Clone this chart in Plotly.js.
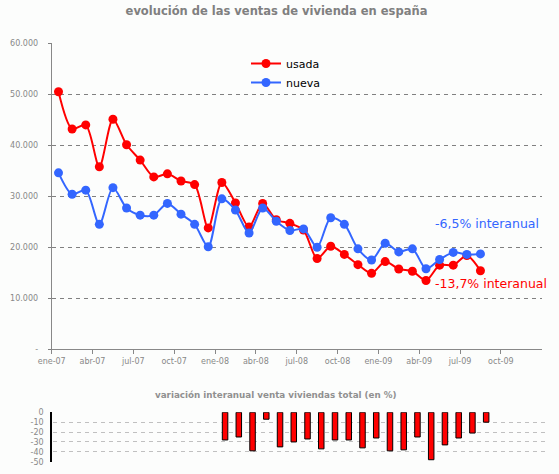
<!DOCTYPE html>
<html>
<head>
<meta charset="utf-8">
<script src="https://cdn.plot.ly/plotly-3.0.1.min.js"></script>
<style>html,body{margin:0;padding:0;background:#fcfdfc;}#chart{width:559px;height:474px;}</style>
</head>
<body>
<div id="chart"></div>
<script>
// ---- data ----
const meses = ['ene-07','feb-07','mar-07','abr-07','may-07','jun-07','jul-07','ago-07','sep-07','oct-07','nov-07','dic-07',
               'ene-08','feb-08','mar-08','abr-08','may-08','jun-08','jul-08','ago-08','sep-08','oct-08','nov-08','dic-08',
               'ene-09','feb-09','mar-09','abr-09','may-09','jun-09','jul-09','ago-09'];
const usada = [50500,43200,44000,35800,45100,40100,37100,33800,34400,33000,32300,23800,
               32700,28700,24000,28600,25400,24700,23400,17800,20200,18600,16600,14900,
               17200,15750,15300,13500,16500,16500,18400,15400];
const nueva = [34600,30400,31200,24500,31700,27700,26300,26300,28600,26500,24500,20100,
               29500,27300,22800,27700,25100,23300,23600,20000,25800,24500,19700,17500,
               20800,19100,19700,15800,17600,19000,18600,18700];
const mesesVar = ['ene-08','feb-08','mar-08','abr-08','may-08','jun-08','jul-08','ago-08','sep-08','oct-08',
                  'nov-08','dic-08','ene-09','feb-09','mar-09','abr-09','may-09','jun-09','jul-09','ago-09'];
const variacion = [-28,-25,-39,-7,-35,-30,-27,-37,-28,-28,-36,-26,-39,-38,-25,-48,-33,-26,-21,-10];
const xTickText = ['ene-07','abr-07','jul-07','oct-07','ene-08','abr-08','jul-08','oct-08','ene-09','abr-09','jul-09','oct-09'];
const yTickVals = [0,10000,20000,30000,40000,50000,60000];
const yTickText = ['-','10.000','20.000','30.000','40.000','50.000','60.000'];
const y2TickVals = [0,-10,-20,-30,-40,-50];
const y2TickText = ['0','-10','-20','-30','-40','-50'];

// month label -> position on a monthly axis starting ene-07 (centre of month)
const abbr = ['ene','feb','mar','abr','may','jun','jul','ago','sep','oct','nov','dic'];
function pos(m){ const [a,y]=m.split('-'); return (parseInt(y,10)-7)*12 + abbr.indexOf(a) + 0.5; }
function tickPos(m){ return pos(m) - 0.5; }

const RED = '#ff0000', BLUE = '#3366ff', GREY = '#888888';
const F = 'DejaVu Sans, Verdana, sans-serif';

const traces = [
  {x: meses.map(pos), y: usada, name: 'usada', type: 'scatter', mode: 'lines+markers',
   line: {color: RED, width: 2, shape: 'spline', smoothing: 0.8},
   marker: {color: RED, size: 9}, xaxis: 'x', yaxis: 'y'},
  {x: meses.map(pos), y: nueva, name: 'nueva', type: 'scatter', mode: 'lines+markers',
   line: {color: BLUE, width: 2, shape: 'spline', smoothing: 0.8},
   marker: {color: BLUE, size: 9}, xaxis: 'x', yaxis: 'y'},
  {x: mesesVar.map(pos), y: variacion, type: 'bar', showlegend: false, width: 0.4,
   marker: {color: RED, line: {color: '#000', width: 1}}, xaxis: 'x2', yaxis: 'y2'}
];

const layout = {
  width: 559, height: 474,
  margin: {l: 0, r: 0, t: 0, b: 0},
  paper_bgcolor: '#fcfdfc', plot_bgcolor: 'rgba(0,0,0,0)',
  font: {family: F, color: GREY},
  title: {text: 'evolución de las ventas de vivienda en españa',
          font: {family: 'DejaVu Sans, sans-serif', size: 11.5, color: '#808080', weight: 'bold'},
          x: 276.5/559, xanchor: 'center', y: 1 - 11/474, yanchor: 'middle', xref: 'paper', yref: 'paper'},
  showlegend: true,
  legend: {x: 246/559, xanchor: 'left', y: 1 - 49/474, yanchor: 'top', bgcolor: 'rgba(0,0,0,0)',
           font: {family: F, size: 11, color: '#000'}, tracegroupgap: 0},
  xaxis: {domain: [51.7/559, 541.7/559], range: [0, 36], tickvals: xTickText.map(tickPos), ticktext: xTickText,
          ticks: 'outside', ticklen: 4, tickcolor: GREY, showline: true, linecolor: GREY, linewidth: 1,
          showgrid: false, zeroline: false, tickfont: {family: F, size: 8, color: GREY}, fixedrange: true},
  yaxis: {domain: [1 - 349.3/474, 1 - 43.3/474], range: [0, 60000], tickvals: yTickVals, ticktext: yTickText,
          ticks: 'outside', ticklen: 3, tickcolor: '#808080', showline: true, linecolor: GREY, linewidth: 1,
          gridcolor: '#808080', griddash: '4px,4px', gridwidth: 1, zeroline: false, ticklabelstandoff: 8,
          tickfont: {family: F, size: 8, color: GREY}},
  xaxis2: {domain: [53.3/559, 548/559], range: [0, 36], showticklabels: false, ticks: '', showline: false,
           showgrid: false, zeroline: false},
  yaxis2: {domain: [1 - 461.7/474, 1 - 412.3/474], range: [-50, 0], tickvals: y2TickVals, ticktext: y2TickText,
           ticks: '', showline: true, linecolor: '#000', linewidth: 1.5, gridcolor: '#c0c0c0', griddash: '4px,4px',
           zeroline: false, ticklabelstandoff: 5, tickfont: {family: F, size: 8, color: GREY}},
  annotations: [
    {text: '-6,5% interanual', xref: 'x', yref: 'y', x: 28.0, y: 24700, xanchor: 'left', yanchor: 'middle',
     showarrow: false, font: {family: F, size: 12.5, color: BLUE}},
    {text: '-13,7% interanual', xref: 'x', yref: 'y', x: 28.0, y: 12900, xanchor: 'left', yanchor: 'middle',
     showarrow: false, font: {family: F, size: 12.5, color: RED}},
    {text: '<b>variación interanual venta viviendas total (en %)</b>', xref: 'paper', yref: 'paper',
     x: 276/559, y: 1 - 395/474, xanchor: 'center', yanchor: 'middle', showarrow: false,
     font: {family: F, size: 8.75, color: '#909090'}}
  ]
};

Plotly.newPlot('chart', traces, layout, {displayModeBar: false, staticPlot: true});
</script>
</body>
</html>
